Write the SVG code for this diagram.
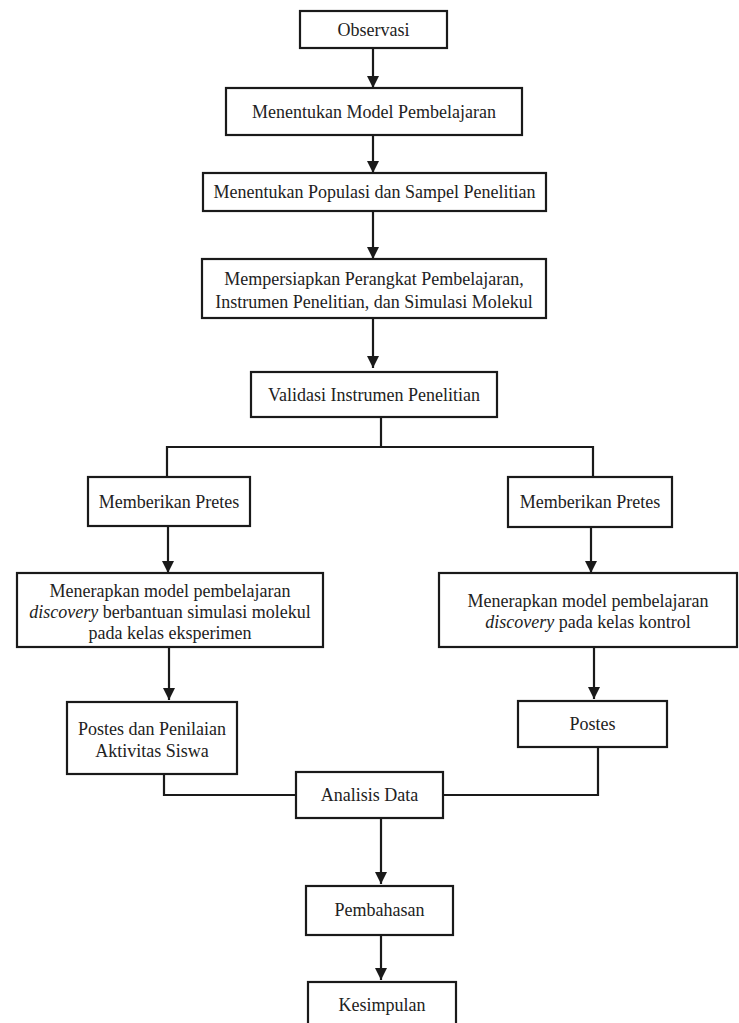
<svg xmlns="http://www.w3.org/2000/svg" width="739" height="1023" viewBox="0 0 739 1023">
<style>
.box{fill:#fff;stroke:#1a1a1a;stroke-width:2.2}
.t{font-size:18px;fill:#222;text-anchor:middle}
.c{fill:none;stroke:#1a1a1a;stroke-width:2.2}
.a{fill:none;stroke:#1a1a1a;stroke-width:2.2;marker-end:url(#ah)}
</style>
<defs>
<marker id="ah" markerUnits="userSpaceOnUse" markerWidth="14" markerHeight="12" refX="12" refY="6" orient="auto">
<path d="M0,0 L12,6 L0,12 Z" fill="#1a1a1a"/>
</marker>
</defs>
<rect width="739" height="1023" fill="#fff"/>
<g id="connectors">
<line class="a" x1="373" y1="48" x2="373" y2="88"/>
<line class="a" x1="373" y1="135" x2="373" y2="173"/>
<line class="a" x1="373" y1="211" x2="373" y2="259"/>
<line class="a" x1="373" y1="318" x2="373" y2="368"/>
<polyline class="c" points="381,417 381,447"/>
<polyline class="c" points="167,477 167,447 593,447 593,477"/>
<line class="a" x1="168" y1="526" x2="168" y2="573"/>
<line class="a" x1="591" y1="527" x2="591" y2="573"/>
<line class="a" x1="169" y1="647" x2="169" y2="700"/>
<line class="a" x1="594" y1="647" x2="594" y2="699"/>
<polyline class="c" points="164,774 164,795 296,795"/>
<polyline class="c" points="598,747 598,795 443,795"/>
<line class="a" x1="381" y1="818" x2="381" y2="884"/>
<line class="a" x1="381" y1="935" x2="381" y2="980"/>
</g>
<g id="nodes" font-family="Liberation Serif, Times New Roman, serif">
<g id="observasi"><rect class="box" x="300" y="11" width="147" height="37"/><text class="t" x="373.5" y="36">Observasi</text></g>
<g id="model"><rect class="box" x="226" y="88" width="296" height="47"/><text class="t" x="374" y="118">Menentukan Model Pembelajaran</text></g>
<g id="populasi"><rect class="box" x="203" y="173" width="343" height="38"/><text class="t" x="374.5" y="198">Menentukan Populasi dan Sampel Penelitian</text></g>
<g id="mempersiapkan"><rect class="box" x="202" y="259" width="344" height="59"/><text class="t" x="374" y="285">Mempersiapkan Perangkat Pembelajaran,</text><text class="t" x="374" y="308">Instrumen Penelitian, dan Simulasi Molekul</text></g>
<g id="validasi"><rect class="box" x="251" y="372" width="246" height="45"/><text class="t" x="374" y="401">Validasi Instrumen Penelitian</text></g>
<g id="pretes-kiri"><rect class="box" x="88" y="477" width="162" height="49"/><text class="t" x="169" y="508">Memberikan Pretes</text></g>
<g id="pretes-kanan"><rect class="box" x="508" y="477" width="164" height="50"/><text class="t" x="590" y="508">Memberikan Pretes</text></g>
<g id="menerapkan-eksperimen"><rect class="box" x="17" y="573" width="306" height="74"/><text class="t" x="170" y="597">Menerapkan model pembelajaran</text><text class="t" x="170" y="618"><tspan font-style="italic">discovery</tspan> berbantuan simulasi molekul</text><text class="t" x="170" y="639">pada kelas eksperimen</text></g>
<g id="menerapkan-kontrol"><rect class="box" x="439" y="573" width="298" height="74"/><text class="t" x="588" y="607">Menerapkan model pembelajaran</text><text class="t" x="588" y="628"><tspan font-style="italic">discovery</tspan> pada kelas kontrol</text></g>
<g id="postes-penilaian"><rect class="box" x="67" y="702" width="170" height="72"/><text class="t" x="152" y="735">Postes dan Penilaian</text><text class="t" x="152" y="757">Aktivitas Siswa</text></g>
<g id="postes"><rect class="box" x="518" y="701" width="149" height="46"/><text class="t" x="592.5" y="730">Postes</text></g>
<g id="analisis"><rect class="box" x="296" y="772" width="147" height="46"/><text class="t" x="369.5" y="801">Analisis Data</text></g>
<g id="pembahasan"><rect class="box" x="306" y="886" width="147" height="49"/><text class="t" x="379.5" y="916">Pembahasan</text></g>
<g id="kesimpulan"><rect class="box" x="308" y="982" width="148" height="50"/><text class="t" x="382" y="1011">Kesimpulan</text></g>
</g>
</svg>
